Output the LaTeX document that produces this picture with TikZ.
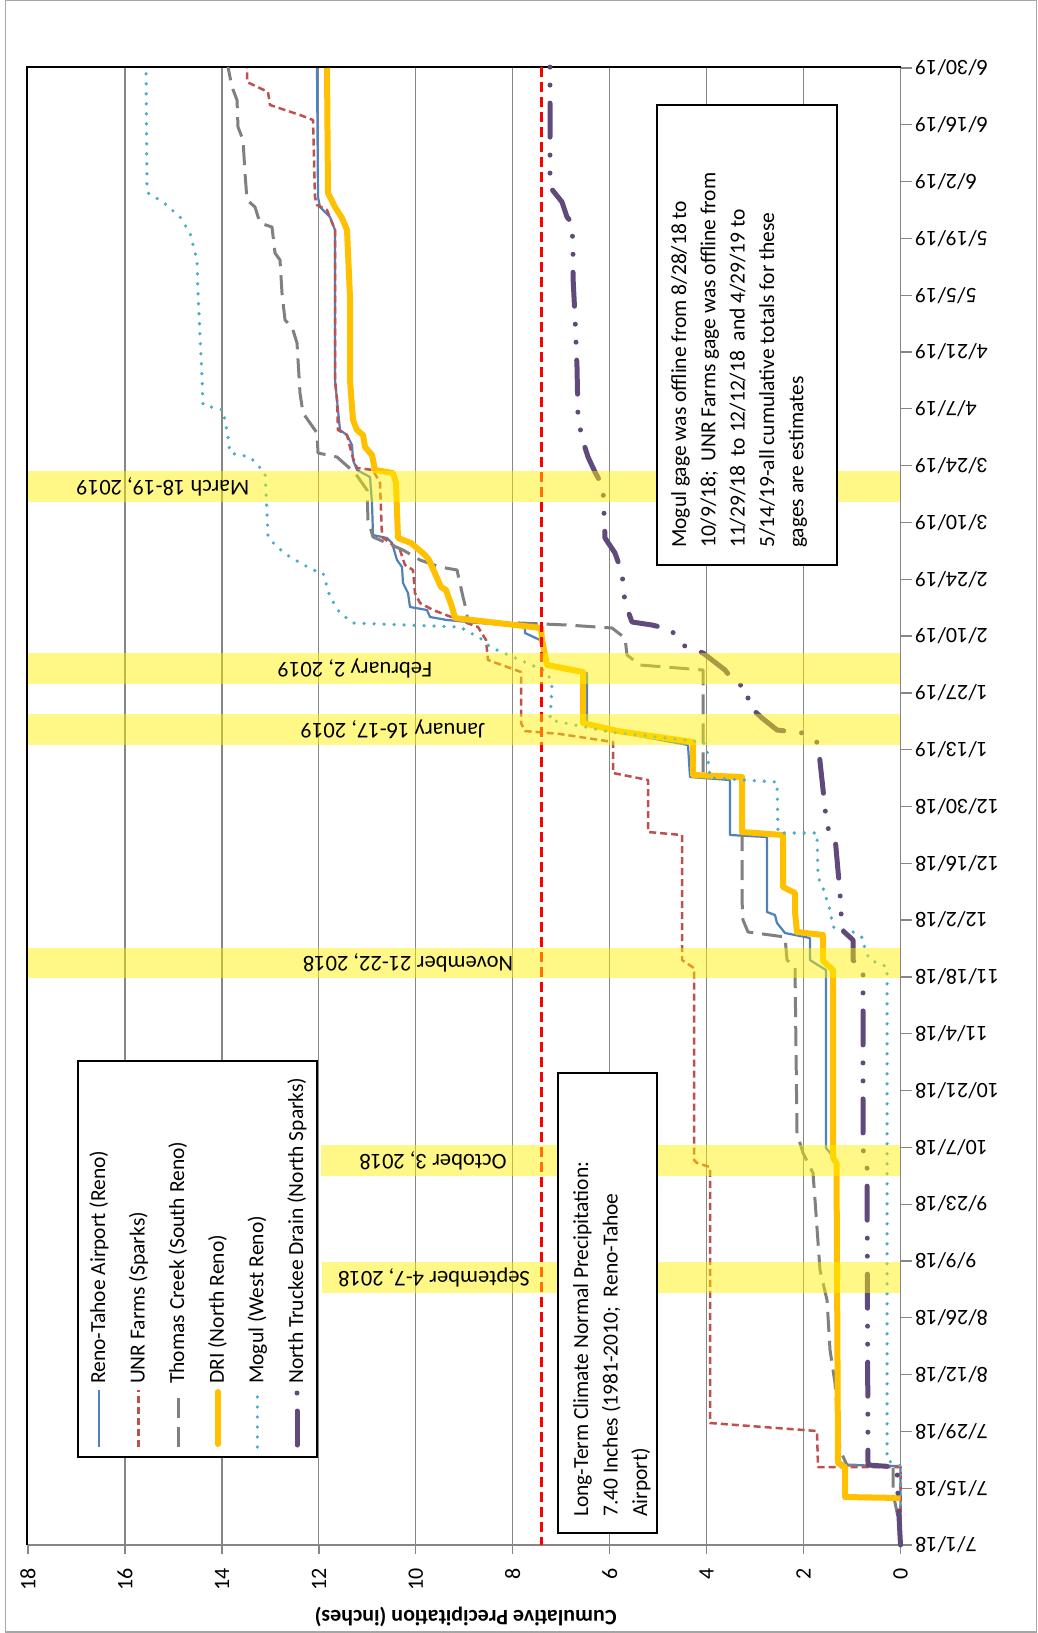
\documentclass[tikz,border=0pt]{standalone}
\usepackage{fontspec}
\setmainfont{Carlito}
\definecolor{cBlue}{HTML}{4F81BD}
\definecolor{cRed}{HTML}{C0504D}
\definecolor{cGray}{HTML}{808080}
\definecolor{cGold}{HTML}{FFC000}
\definecolor{cTeal}{HTML}{4BACC6}
\definecolor{cPurp}{HTML}{604A7B}
\definecolor{cGrid}{HTML}{868686}
\definecolor{cBorder}{HTML}{A6A6A6}
\tikzset{
  gridline/.style={cGrid, line width=1.2pt},
  axisline/.style={cGrid, line width=1.3pt},
  sReno/.style={cBlue, line width=2.2pt, line join=round},
  sUNR/.style={cRed, line width=2.5pt, dash pattern=on 7pt off 4pt, line join=round},
  sThomas/.style={cGray, line width=3pt, dash pattern=on 20pt off 9pt, line join=round},
  sDRI/.style={cGold, line width=6pt, line join=round},
  sMogul/.style={cTeal, line width=3.6pt, dash pattern=on 0pt off 10pt, line cap=round},
  sNTD/.style={cPurp, line width=5pt, dash pattern=on 34pt off 18pt on 0pt off 18pt on 0pt off 18pt, line cap=round, line join=round},
  normline/.style={red, line width=3.8pt, dash pattern=on 10pt off 5pt},
  band/.style={fill=yellow, fill opacity=0.47},
  bandlabel/.style={rotate=180, inner sep=0pt, font=\fontsize{22.5}{26}\selectfont},
  notebox/.style={draw=black, fill=white, line width=1.3pt},
  vtext/.style={rotate=90, anchor=base west, inner sep=0pt, font=\fontsize{21.5}{26}\selectfont},
  datelab/.style={rotate=180, anchor=east, inner sep=0pt, font=\fontsize{22}{26}\selectfont},
  vallab/.style={rotate=90, anchor=east, inner sep=0pt, font=\fontsize{22}{26}\selectfont}
}
\begin{document}
\begin{tikzpicture}[x=1pt,y=-1pt]
\useasboundingbox (0,0) rectangle (1037,1633);
\fill[white] (0,0) rectangle (1037,1633);
\draw[cBorder, line width=1.2pt] (5.5,0.8) rectangle (1036.2,1632);

% gridlines
\foreach \v in {2,4,...,16} \draw[gridline] ({900.5-48.47*\v},67) -- ({900.5-48.47*\v},1545);

% ticks
\foreach \i in {0,...,26} \draw[axisline] (900.5,{1545-56.81*\i}) -- (912,{1545-56.81*\i});
\foreach \v in {0,2,...,18} \draw[axisline] ({900.5-48.47*\v},1545) -- ({900.5-48.47*\v},1554);

% axes and plot border
\draw[axisline] (900.5,67) -- (900.5,1545) -- (27,1545);
\draw[black, line width=1.3pt] (27,1545) -- (27,67) -- (900.5,67);

% series: Reno-Tahoe Airport
\draw[sReno] (900.5,1545) -- (900.5,1466) -- (846,1465) -- (838,1461) -- (836,1160) -- (826,1148) -- (826,970) -- (813,962) -- (810,960) -- (810,938) -- (785,933) -- (777,923) -- (775,915) -- (767,912) -- (767,837) -- (730,835) -- (730,780) -- (690,777) -- (688,745) -- (617,732) -- (587,724) -- (587,673) -- (548,664) -- (540,640) -- (525,633) -- (525,627) -- (447,620) -- (430,617) -- (427,610) -- (410,607) -- (408,593) -- (403,583) -- (402,567) -- (397,560) -- (392,543) -- (387,538) -- (373,535) -- (372,503) -- (370,477) -- (357,470) -- (353,460) -- (352,445) -- (347,435) -- (340,430) -- (337,400) -- (335,380) -- (335,230) -- (330,217) -- (320,207) -- (318,197) -- (317,68);

% UNR Farms
\draw[sUNR] (900.5,1545) -- (900.5,1467) -- (818,1467) -- (817,1431) -- (710,1423) -- (710,1167) -- (697,1163) -- (694,1160) -- (694,968) -- (682,960) -- (682,835) -- (648,832) -- (648,780) -- (613,773) -- (613,742) -- (560,734) -- (525,731) -- (521,723) -- (521,672) -- (488,660) -- (486,640) -- (478,627) -- (467,623) -- (433,610) -- (420,603) -- (415,593) -- (413,570) -- (405,565) -- (400,550) -- (382,537) -- (380,483) -- (373,470) -- (357,468) -- (353,458) -- (350,447) -- (347,435) -- (338,430) -- (337,400) -- (335,380) -- (335,230) -- (327,210) -- (317,205) -- (315,197) -- (313,120) -- (300,115) -- (270,105) -- (268,92) -- (247,82) -- (247,68);

% Thomas Creek
\draw[sThomas] (900.5,1545) -- (898,1517) -- (893,1493) -- (893,1466) -- (847,1465) -- (840,1450) -- (835,1383) -- (830,1350) -- (827,1300) -- (820,1270) -- (815,1200) -- (813,1173) -- (803,1153) -- (797,1133) -- (795,967) -- (787,960) -- (785,937) -- (748,932) -- (743,920) -- (742,900) -- (742,778) -- (703,776) -- (703,670) -- (640,665) -- (627,655) -- (625,638) -- (612,628) -- (567,625) -- (520,623) -- (467,622) -- (467,613) -- (463,597) -- (457,570) -- (440,567) -- (420,560) -- (403,550) -- (373,537) -- (368,520) -- (367,490) -- (360,480) -- (355,473) -- (337,457) -- (318,453) -- (317,433) -- (303,413) -- (300,393) -- (297,343) -- (292,327) -- (285,320) -- (282,293) -- (280,260) -- (275,253) -- (272,227) -- (260,223) -- (255,207) -- (247,200) -- (245,173) -- (243,140) -- (238,127) -- (237,100) -- (232,87) -- (228,67);

% DRI
\draw[sDRI] (900.5,1498) -- (845,1497) -- (845,1467) -- (838,1463) -- (836.5,1163) -- (833,1158) -- (833,970) -- (823,961) -- (823,935) -- (797,932) -- (795,912) -- (795,893) -- (783,887) -- (783,835) -- (742,832) -- (742,777) -- (693,775) -- (693,742) -- (617,731) -- (583,723) -- (583,672) -- (547,665) -- (542,640) -- (541,628) -- (455,618) -- (452,607) -- (446,590) -- (441,587) -- (429,560) -- (425,555) -- (411,543) -- (398,538) -- (396,483) -- (393,473) -- (375,470) -- (372,455) -- (365,447) -- (363,435) -- (357,430) -- (353,420) -- (352,407) -- (350,380) -- (350,297) -- (347,230) -- (342,218) -- (335,207) -- (328,193) -- (327,68);

% Mogul
\draw[sMogul] (900.5,1545) -- (900.5,1466) -- (893,1463) -- (887,1460) -- (887,967) -- (883,965) -- (870,960) -- (865,950) -- (863,938) -- (853,932) -- (833,927) -- (830,910) -- (823,888) -- (818,877) -- (817,833) -- (778,833) -- (777,782) -- (710,778) -- (708,760) -- (707,748) -- (703,742) -- (610,732) -- (550,720) -- (552,687) -- (548,673) -- (543,670) -- (490,647) -- (483,640) -- (460,627) -- (353,623) -- (340,613) -- (330,597) -- (323,573) -- (313,570) -- (290,557) -- (277,547) -- (268,537) -- (267,513) -- (265,473) -- (250,457) -- (230,453) -- (228,437) -- (223,410) -- (203,405) -- (202,377) -- (198,293) -- (197,260) -- (190,233) -- (180,217) -- (163,202) -- (148,193) -- (147,187) -- (146,67);

% North Truckee Drain
\draw[sNTD] (900.5,1545) -- (898,1497) -- (897,1467) -- (868,1465) -- (867,1160) -- (863,1150) -- (863,970) -- (853,960) -- (853,940) -- (842,930) -- (840,893) -- (835,837) -- (827,827) -- (825,808) -- (818,743) -- (803,733) -- (777,730) -- (762,718) -- (748,705) -- (748,688) -- (735,683) -- (725,670) -- (703,653) -- (687,648) -- (675,637) -- (672,630) -- (652,625) -- (632,622) -- (625,603) -- (622,573) -- (615,553) -- (605,538) -- (603,487) -- (595,472) -- (588,457) -- (582,438) -- (578,417) -- (577,367) -- (575,317) -- (573,277) -- (573,250) -- (572,223) -- (567,217) -- (562,202) -- (550,187) -- (550,67);

% normal line 7.40
\draw[normline] (541.5,67) -- (541.5,1545);

% event bands
\fill[band] (322,1262) rectangle (900,1293);
\fill[band] (321,1145) rectangle (900,1176);
\fill[band] (28,948) rectangle (900,978);
\fill[band] (28,714) rectangle (900,745);
\fill[band] (28,653) rectangle (900,684);
\fill[band] (28,471) rectangle (900,502);
\node[bandlabel] (lsep) at (434,1277.5) {September 4-7, 2018};
\node[bandlabel] (loct) at (433,1160.5) {October 3, 2018};
\node[bandlabel] (lnov) at (408,963) {November 21-22, 2018};
\node[bandlabel] (ljan) at (393,729.5) {January 16-17, 2019};
\node[bandlabel] (lfeb) at (355,668.5) {February 2, 2019};
\node[bandlabel] (lmar) at (163,486.5) {March 18-19, 2019};

% long-term normal box
\draw[notebox] (558,1073) rectangle (657,1533);
\node[vtext] (lt1) at (588,1517) {Long-Term Climate Normal Precipitation:};
\node[vtext] (lt2) at (617.5,1517) {7.40 Inches (1981-2010;\ \ Reno-Tahoe};
\node[vtext] (lt3) at (647,1517) {Airport)};

% Mogul note box
\draw[notebox] (657,105) rectangle (837,565);
\node[vtext] (mn1) at (686,548) {Mogul gage was offline from 8/28/18 to};
\node[vtext] (mn2) at (715.3,548) {10/9/18;\ \ UNR Farms gage was offline from};
\node[vtext] (mn3) at (744.6,548) {11/29/18\ \ to 12/12/18\ \ and 4/29/19 to};
\node[vtext] (mn4) at (774,548) {5/14/19-all cumulative totals for these};
\node[vtext] (mn5) at (803.3,548) {gages are estimates};

% legend
\draw[notebox] (78,1061) rectangle (317,1457);
\draw[sReno] (99,1447) -- (99,1390);
\draw[sUNR] (138.6,1447) -- (138.6,1390);
\draw[sThomas] (178.2,1447) -- (178.2,1390);
\draw[sDRI, line cap=round] (217.8,1444) -- (217.8,1392);
\draw[sMogul] (257.4,1447) -- (257.4,1390);
\draw[sNTD] (297,1445) -- (297,1390);
\node[vtext] (lg1) at (105,1384) {Reno-Tahoe Airport (Reno)};
\node[vtext] (lg2) at (144.6,1384) {UNR Farms (Sparks)};
\node[vtext] (lg3) at (184.2,1384) {Thomas Creek (South Reno)};
\node[vtext] (lg4) at (223.8,1384) {DRI (North Reno)};
\node[vtext] (lg5) at (263.4,1384) {Mogul (West Reno)};
\node[vtext] (lg6) at (303,1384) {North Truckee Drain (North Sparks)};

% date labels
\foreach \lab [count=\i from 0] in {7/1/18,7/15/18,7/29/18,8/12/18,8/26/18,9/9/18,9/23/18,10/7/18,10/21/18,11/4/18,11/18/18,12/2/18,12/16/18,12/30/18,1/13/19,1/27/19,2/10/19,2/24/19,3/10/19,3/24/19,4/7/19,4/21/19,5/5/19,5/19/19,6/2/19,6/16/19,6/30/19}
  \node[datelab] (d\i) at (915,{1545-56.81*\i}) {\lab};

% value labels
\foreach \v in {0,2,...,18}
  \node[vallab] (v\v) at ({900.5-48.47*\v},1568) {\v};

\node[rotate=180, inner sep=0pt, font=\fontsize{22}{26}\selectfont\bfseries] (ytitle) at (465.6,1617) {Cumulative Precipitation (inches)};
\end{tikzpicture}
\end{document}
